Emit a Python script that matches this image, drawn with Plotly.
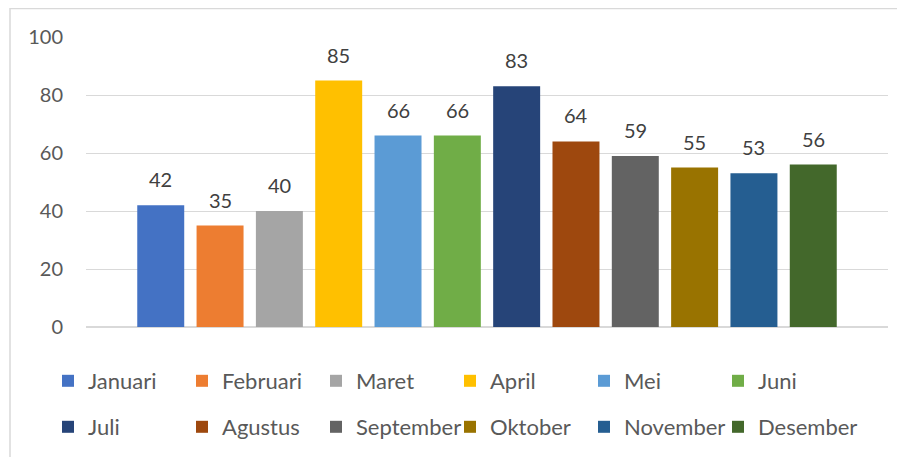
import plotly.graph_objects as go

months = ["Januari", "Februari", "Maret", "April", "Mei", "Juni",
          "Juli", "Agustus", "September", "Oktober", "November", "Desember"]
values = [42, 35, 40, 85, 66, 66, 83, 64, 59, 55, 53, 56]
colors = ["#4472C4", "#ED7D31", "#A5A5A5", "#FFC000", "#5B9BD5", "#70AD47",
          "#264478", "#9E480E", "#636363", "#997300", "#255E91", "#43682B"]
y_ticks = [0, 20, 40, 60, 80, 100]

FONT = "Lato, 'Liberation Sans', sans-serif"

# page has an 8px body margin; figure drawn in the remaining area
OFF = 8
W, H = 905 - OFF, 457 - OFF
L, R, T, B = 86 - OFF, 905 - 888, 37 - OFF, 457 - 327
pw = W - L - R
ph = H - T - B


def px_x(p):
    return (p - OFF - L) / pw


def px_y(p):
    return (H - B - (p - OFF)) / ph


LEG_COLS = 6
LEG_X0, LEG_DX = 48, 134      # page px of first column, column pitch
LEG_ROWS_Y = [381, 427]        # page px of legend row centres

legend_common = dict(
    orientation="h", xanchor="left", yanchor="middle",
    font=dict(family=FONT, size=22, color="#595959"),
    bgcolor="rgba(0,0,0,0)", borderwidth=0,
    itemclick=False, itemdoubleclick=False,
)

fig = go.Figure()
legend_layouts = {}
for i, (m, v, c) in enumerate(zip(months, values, colors)):
    lname = "legend" if i == 0 else f"legend{i + 1}"
    row, col = divmod(i, LEG_COLS)
    legend_layouts[lname] = dict(
        x=px_x(LEG_X0 + LEG_DX * col), y=px_y(LEG_ROWS_Y[row]), **legend_common)
    fig.add_trace(go.Bar(
        x=[m], y=[v], name=m, marker=dict(color=c, line=dict(width=0)),
        legend=lname, hoverinfo="skip",
    ))
    fig.add_annotation(
        x=m, y=v, xref="x", yref="y", text=str(v), showarrow=False,
        yanchor="bottom", yshift=12,
        font=dict(family=FONT, size=20, color="#404040"),
    )

# outer border of the chart area
fig.add_shape(type="rect", xref="paper", yref="paper",
              x0=px_x(10), x1=px_x(960), y0=px_y(520), y1=px_y(8.5),
              line=dict(color="#D9D9D9", width=1.5), fillcolor="rgba(0,0,0,0)",
              layer="below")

fig.update_layout(
    width=W, height=H,
    margin=dict(l=L, r=R, t=T, b=B, autoexpand=False),
    paper_bgcolor="white", plot_bgcolor="white",
    barmode="overlay", bargap=0.208,
    showlegend=True,
    xaxis=dict(
        type="category", categoryorder="array", categoryarray=months,
        range=[-1.26, 12.26], showticklabels=False, showgrid=False,
        zeroline=False, showline=False, ticks="", fixedrange=True,
    ),
    yaxis=dict(
        range=[0, 100], tickvals=y_ticks, showgrid=True,
        gridcolor="#D9D9D9", gridwidth=1,
        zeroline=True, zerolinecolor="#D9D9D9", zerolinewidth=1.5,
        showline=False, ticks="", ticklabelstandoff=22,
        tickfont=dict(family=FONT, size=20, color="#595959"),
        fixedrange=True,
    ),
    font=dict(family=FONT),
    **legend_layouts,
)

fig.write_html("out.html")
